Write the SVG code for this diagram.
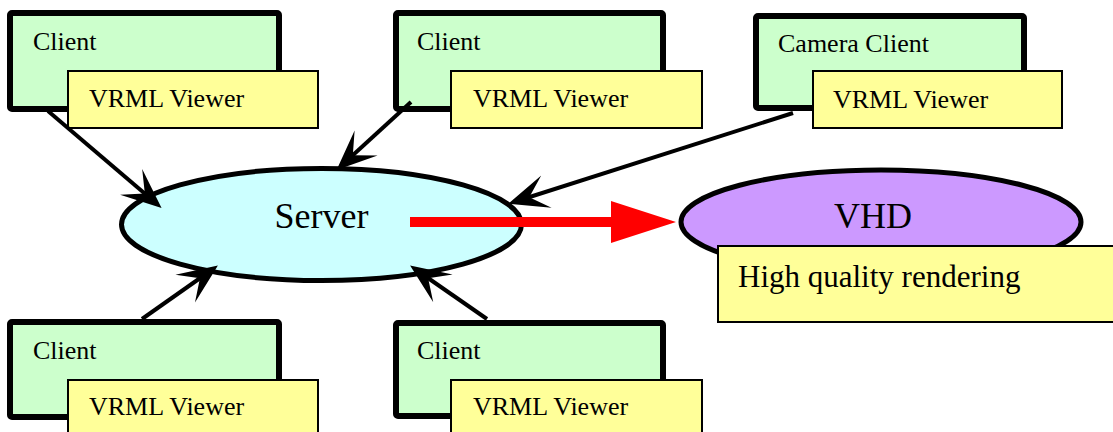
<svg xmlns="http://www.w3.org/2000/svg" width="1113" height="432" viewBox="0 0 1113 432">
<style>
.client{fill:#ccffcc;stroke:#000;stroke-width:6}
.viewer{fill:#ffff99;stroke:#000;stroke-width:2}
text{font-family:'Liberation Serif','Times New Roman','DejaVu Serif',serif;fill:#000}
.s26{font-size:26px}
.big{font-size:36px}
.conn{stroke:#000;stroke-width:4;fill:none}
</style>
<defs>
<marker id="ah" markerUnits="userSpaceOnUse" orient="auto" refX="0" refY="0" markerWidth="80" markerHeight="50" viewBox="-40 -25 80 50" overflow="visible">
<path d="M6,0 L-34,-17 L-16,0 L-34,17 Z" fill="#000"/>
</marker>
</defs>
<rect width="1113" height="432" fill="#fff"/>
<g id="server">
<ellipse cx="321.5" cy="224.5" rx="200" ry="56" fill="#ccffff" stroke="#000" stroke-width="5"/>
<text class="big" x="321.5" y="228" text-anchor="middle">Server</text>
</g>
<g id="vhd">
<ellipse cx="881" cy="222" rx="200" ry="52" fill="#cc99ff" stroke="#000" stroke-width="5"/>
<text class="big" x="873" y="228" text-anchor="middle">VHD</text>
<rect x="718" y="246" width="400" height="76" class="viewer"/>
<text style="font-size:31px" x="738" y="287">High quality rendering</text>
</g>
<g id="client1">
<rect x="10" y="13" width="269" height="96" rx="2" class="client"/>
<text class="s26" x="33" y="50">Client</text>
<rect x="68" y="71" width="250" height="57" class="viewer"/>
<text class="s26" x="89" y="107">VRML Viewer</text>
</g>
<g id="client2">
<rect x="396" y="13" width="267" height="96" rx="2" class="client"/>
<text class="s26" x="417" y="50">Client</text>
<rect x="451" y="71" width="251" height="57" class="viewer"/>
<text class="s26" x="473" y="107">VRML Viewer</text>
</g>
<g id="camera">
<rect x="756" y="16" width="268" height="92" rx="2" class="client"/>
<text class="s26" x="778" y="52">Camera Client</text>
<rect x="813" y="71" width="249" height="57" class="viewer"/>
<text class="s26" x="833" y="108">VRML Viewer</text>
</g>
<g id="client3">
<rect x="10" y="322" width="269" height="95" rx="2" class="client"/>
<text class="s26" x="33" y="359">Client</text>
<rect x="68" y="380" width="250" height="60" class="viewer"/>
<text class="s26" x="89" y="415">VRML Viewer</text>
</g>
<g id="client4">
<rect x="396" y="323" width="267" height="93" rx="2" class="client"/>
<text class="s26" x="417" y="359">Client</text>
<rect x="451" y="380" width="251" height="60" class="viewer"/>
<text class="s26" x="473" y="415">VRML Viewer</text>
</g>
<g id="connectors">
<line class="conn" x1="48" y1="111" x2="157" y2="204" marker-end="url(#ah)"/>
<line class="conn" x1="411" y1="102" x2="341" y2="166" marker-end="url(#ah)"/>
<line class="conn" x1="793" y1="113" x2="514" y2="202" marker-end="url(#ah)"/>
<line class="conn" x1="142" y1="319" x2="213" y2="269" marker-end="url(#ah)"/>
<line class="conn" x1="487" y1="319" x2="415" y2="269" marker-end="url(#ah)"/>
<path d="M410,217 H611 V201 L676,222 L611,243 V227 H410 Z" fill="#ff0000"/>
</g>
</svg>
